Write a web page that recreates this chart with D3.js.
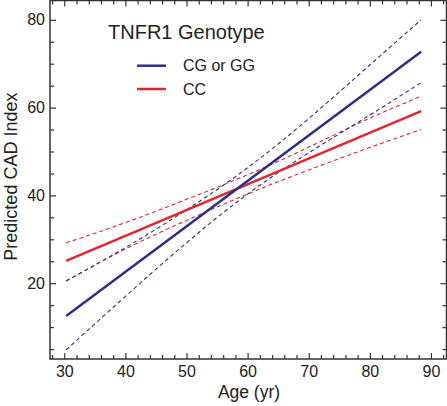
<!DOCTYPE html>
<html>
<head>
<meta charset="utf-8">
<script src="https://cdn.jsdelivr.net/npm/d3@7"></script>
<style>
  html, body { margin: 0; padding: 0; background: #fff; }
  svg { display: block; }
  text { font-family: "Liberation Sans", Arial, sans-serif; fill: #222; }
</style>
</head>
<body>
<svg id="chart" width="447" height="406"></svg>
<script>
// ---- data ----
const fitAges = [30.3, 88.4];
const blueFit = [12.5, 72.7];
const redFit = [25.1, 59.2];
const bandAges = [30.3, 40, 50, 60, 70, 80, 88.4];
const blueUpper = [20.5, 28.1, 36.7, 46.3, 57.5, 69.7, 80.0];
const blueLower = [4.8, 17.0, 29.2, 40.3, 49.7, 58.3, 65.7];
const redUpper = [29.2, 33.8, 39.1, 44.7, 51.0, 57.6, 62.6];
const redLower = [20.5, 27.8, 34.3, 40.3, 45.8, 50.9, 55.0];
const xMajor = [30, 40, 50, 60, 70, 80, 90];
const yMajor = [20, 40, 60, 80];
const legendTitle = "TNFR1 Genotype";
const seriesNames = ["CG or GG", "CC"];
const seriesColors = ["#2c2e8c", "#e2262c"];

// ---- layout ----
const svg = d3.select("#chart");
const L = 50, R = 446.5, T = 0.5, B = 359;
const x = d3.scaleLinear().domain([27.66, 92.55]).range([L, R]);
const y = d3.scaleLinear().domain([2.73, 84.4]).range([B, T]);

const xMinor = d3.range(28, 93, 2).filter(v => !xMajor.includes(v));
const yMinor = d3.range(5, 85, 5).filter(v => !yMajor.includes(v));

const axisColor = "#333";
function styleAxis(g) {
  g.select(".domain").remove();
  g.selectAll("line").attr("stroke", axisColor).attr("stroke-width", 1.2);
  g.selectAll("text").style("font-size", "16px").attr("fill", "#222");
}

// bottom
svg.append("g").attr("transform", `translate(0,${B})`)
  .call(d3.axisBottom(x).tickValues(xMajor).tickSizeInner(-6).tickSizeOuter(0).tickPadding(7).tickFormat(d3.format("d")))
  .call(styleAxis);
svg.append("g").attr("transform", `translate(0,${B})`)
  .call(d3.axisBottom(x).tickValues(xMinor).tickSizeInner(-4).tickSizeOuter(0).tickFormat(""))
  .call(styleAxis);
// top
svg.append("g").attr("transform", `translate(0,${T})`)
  .call(d3.axisTop(x).tickValues(xMajor).tickSizeInner(-6).tickSizeOuter(0).tickFormat(""))
  .call(styleAxis);
svg.append("g").attr("transform", `translate(0,${T})`)
  .call(d3.axisTop(x).tickValues(xMinor).tickSizeInner(-4).tickSizeOuter(0).tickFormat(""))
  .call(styleAxis);
// left
svg.append("g").attr("transform", `translate(${L},0)`)
  .call(d3.axisLeft(y).tickValues(yMajor).tickSizeInner(-6).tickSizeOuter(0).tickPadding(5).tickFormat(d3.format("d")))
  .call(styleAxis);
svg.append("g").attr("transform", `translate(${L},0)`)
  .call(d3.axisLeft(y).tickValues(yMinor).tickSizeInner(-4).tickSizeOuter(0).tickFormat(""))
  .call(styleAxis);
// right
svg.append("g").attr("transform", `translate(${R},0)`)
  .call(d3.axisRight(y).tickValues(yMajor).tickSizeInner(-6).tickSizeOuter(0).tickFormat(""))
  .call(styleAxis);
svg.append("g").attr("transform", `translate(${R},0)`)
  .call(d3.axisRight(y).tickValues(yMinor).tickSizeInner(-4).tickSizeOuter(0).tickFormat(""))
  .call(styleAxis);

// frame
svg.append("rect").attr("x", L).attr("y", T).attr("width", R - L).attr("height", B - T)
  .attr("fill", "none").attr("stroke", axisColor).attr("stroke-width", 1.5);

// lines
const line = d3.line().x(d => x(d[0])).y(d => y(d[1]));
const bandLine = d3.line().x(d => x(d[0])).y(d => y(d[1])).curve(d3.curveNatural);

function drawBand(vals, color) {
  svg.append("path").datum(bandAges.map((a, i) => [a, vals[i]]))
    .attr("d", bandLine).attr("fill", "none").attr("stroke", color)
    .attr("stroke-width", 1.1).attr("stroke-dasharray", "4,3");
}
drawBand(redUpper, seriesColors[1]);
drawBand(redLower, seriesColors[1]);
drawBand(blueUpper, seriesColors[0]);
drawBand(blueLower, seriesColors[0]);

svg.append("path").datum(fitAges.map((a, i) => [a, redFit[i]]))
  .attr("d", line).attr("fill", "none").attr("stroke", seriesColors[1]).attr("stroke-width", 2.5);
svg.append("path").datum(fitAges.map((a, i) => [a, blueFit[i]]))
  .attr("d", line).attr("fill", "none").attr("stroke", seriesColors[0]).attr("stroke-width", 2.5);

// axis titles
svg.append("text").attr("x", 249).attr("y", 398).attr("text-anchor", "middle")
  .style("font-size", "17.5px").text("Age (yr)");
svg.append("text").attr("transform", `translate(16.5,176.6) rotate(-90)`).attr("text-anchor", "middle")
  .style("font-size", "18px").text("Predicted CAD Index");

// legend
svg.append("text").attr("x", 108).attr("y", 39).style("font-size", "20px").text(legendTitle);
seriesNames.forEach((name, i) => {
  const ly = 65.7 + i * 23.3;
  svg.append("line").attr("x1", 137).attr("x2", 166).attr("y1", ly).attr("y2", ly)
    .attr("stroke", seriesColors[i]).attr("stroke-width", 2.5);
  svg.append("text").attr("x", 183).attr("y", ly + 5.5).style("font-size", "16px").text(name);
});
</script>
</body>
</html>
